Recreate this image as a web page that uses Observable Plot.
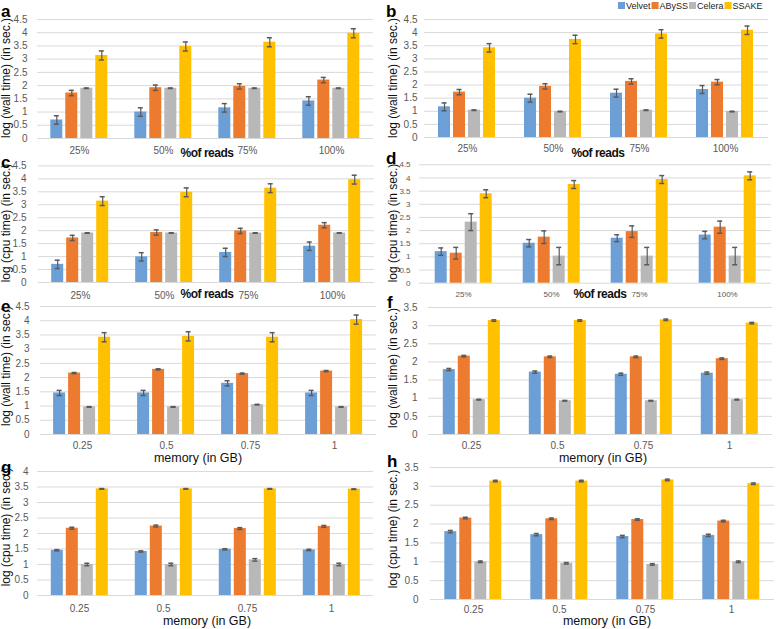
<!DOCTYPE html>
<html>
<head>
<meta charset="utf-8">
<script src="https://cdn.jsdelivr.net/npm/d3@7"></script>
<script src="https://cdn.jsdelivr.net/npm/@observablehq/plot@0.6"></script>
<style>
  body { margin: 0; background: #fff; }
  #root { position: relative; width: 778px; height: 629px; overflow: hidden; background: #fff; }
  .panel { position: absolute; }
  .panel svg { overflow: visible; display: block; }
  #overlay { position: absolute; left: 0; top: 0; pointer-events: none; }
</style>
</head>
<body>
<div id="root"></div>
<script>
// ---------- categories & series ----------
const series = ["Velvet", "ABySS", "Celera", "SSAKE"];
const seriesColors = ["#6b9fd6", "#ec7a2f", "#b8b8b8", "#ffc000"];
const readCats = ["25%", "50%", "75%", "100%"];
const memCats = ["0.25", "0.5", "0.75", "1"];

// ---------- panel a : log wall time, % of reads ----------
const aVelvet = [0.70, 1.00, 1.16, 1.42];
const aAbyss  = [1.72, 1.92, 1.97, 2.21];
const aCelera = [1.90, 1.90, 1.90, 1.90];
const aSsake  = [3.14, 3.48, 3.64, 3.98];
const aErrVelvet = [0.16, 0.16, 0.16, 0.16];
const aErrAbyss  = [0.10, 0.10, 0.10, 0.10];
const aErrCelera = [0.01, 0.01, 0.01, 0.01];
const aErrSsake  = [0.17, 0.17, 0.17, 0.17];

// ---------- panel b : log wall time, % of reads ----------
const bVelvet = [1.17, 1.50, 1.69, 1.83];
const bAbyss  = [1.73, 1.95, 2.14, 2.11];
const bCelera = [1.04, 0.99, 1.04, 0.99];
const bSsake  = [3.42, 3.74, 3.95, 4.09];
const bErrVelvet = [0.15, 0.15, 0.15, 0.15];
const bErrAbyss  = [0.10, 0.10, 0.10, 0.10];
const bErrCelera = [0.01, 0.01, 0.01, 0.01];
const bErrSsake  = [0.16, 0.16, 0.16, 0.16];

// ---------- panel c : log cpu time, % of reads ----------
const cVelvet = [0.70, 0.99, 1.16, 1.40];
const cAbyss  = [1.72, 1.93, 1.99, 2.21];
const cCelera = [1.91, 1.91, 1.91, 1.91];
const cSsake  = [3.14, 3.48, 3.64, 3.97];
const cErrVelvet = [0.16, 0.16, 0.16, 0.16];
const cErrAbyss  = [0.10, 0.10, 0.10, 0.10];
const cErrCelera = [0.01, 0.01, 0.01, 0.01];
const cErrSsake  = [0.17, 0.17, 0.17, 0.17];

// ---------- panel d : log cpu time, % of reads ----------
const dVelvet = [1.20, 1.52, 1.71, 1.83];
const dAbyss  = [1.14, 1.75, 1.96, 2.13];
const dCelera = [2.32, 1.03, 1.03, 1.03];
const dSsake  = [3.40, 3.75, 3.94, 4.08];
const dErrVelvet = [0.14, 0.14, 0.13, 0.14];
const dErrAbyss  = [0.22, 0.24, 0.22, 0.23];
const dErrCelera = [0.32, 0.33, 0.33, 0.33];
const dErrSsake  = [0.15, 0.15, 0.15, 0.15];

// ---------- panel e : log wall time, memory ----------
const eVelvet = [1.46, 1.46, 1.80, 1.46];
const eAbyss  = [2.16, 2.29, 2.14, 2.23];
const eCelera = [0.97, 0.97, 1.05, 0.97];
const eSsake  = [3.42, 3.45, 3.42, 4.04];
const eErrVelvet = [0.09, 0.09, 0.09, 0.09];
const eErrAbyss  = [0.02, 0.02, 0.02, 0.02];
const eErrCelera = [0.01, 0.01, 0.01, 0.01];
const eErrSsake  = [0.16, 0.16, 0.16, 0.16];

// ---------- panel f : log wall time, memory ----------
const fVelvet = [1.79, 1.72, 1.66, 1.69];
const fAbyss  = [2.16, 2.14, 2.14, 2.09];
const fCelera = [0.96, 0.93, 0.93, 0.96];
const fSsake  = [3.14, 3.14, 3.16, 3.07];
const fErrVelvet = [0.03, 0.03, 0.03, 0.03];
const fErrAbyss  = [0.02, 0.02, 0.02, 0.02];
const fErrCelera = [0.01, 0.01, 0.01, 0.01];
const fErrSsake  = [0.02, 0.02, 0.02, 0.02];

// ---------- panel g : log cpu time, memory ----------
const gVelvet = [1.46, 1.42, 1.49, 1.47];
const gAbyss  = [2.17, 2.24, 2.16, 2.23];
const gCelera = [1.00, 1.00, 1.15, 1.00];
const gSsake  = [3.44, 3.44, 3.44, 3.43];
const gErrVelvet = [0.02, 0.02, 0.02, 0.02];
const gErrAbyss  = [0.03, 0.03, 0.03, 0.03];
const gErrCelera = [0.04, 0.04, 0.04, 0.04];
const gErrSsake  = [0.01, 0.01, 0.01, 0.01];

// ---------- panel h : log cpu time, memory ----------
const hVelvet = [1.80, 1.72, 1.67, 1.70];
const hAbyss  = [2.16, 2.14, 2.12, 2.08];
const hCelera = [1.00, 0.96, 0.93, 1.00];
const hSsake  = [3.14, 3.14, 3.17, 3.07];
const hErrVelvet = [0.03, 0.03, 0.03, 0.03];
const hErrAbyss  = [0.02, 0.02, 0.02, 0.02];
const hErrCelera = [0.02, 0.02, 0.02, 0.02];
const hErrSsake  = [0.02, 0.02, 0.02, 0.02];

// ---------- axis texts ----------
const yLabelWall = "log (wall time) (in sec.)";
const yLabelCpu = "log (cpu time) (in sec.)";
const xLabelReads = "%of reads";
const xLabelMem = "memory (in GB)";

const panels = [
  {id: "a", cats: readCats, top: 4.5, vals: [aVelvet, aAbyss, aCelera, aSsake], errs: [aErrVelvet, aErrAbyss, aErrCelera, aErrSsake],
   ylab: yLabelWall, xlab: xLabelReads,
   L: 0, T: 0, W: 380, H: 160, mL: 35.7, mR: 5.7, mT: 19, mB: 22, pad: 8.5, fs: 10, ypad: 10,
   letter: [1, 17], ylabPos: [9.5, 78], xlabPos: [207, 156.5], xbold: true},
  {id: "b", cats: readCats, top: 4.5, vals: [bVelvet, bAbyss, bCelera, bSsake], errs: [bErrVelvet, bErrAbyss, bErrCelera, bErrSsake],
   ylab: yLabelWall, xlab: xLabelReads,
   L: 388, T: 0, W: 390, H: 160, mL: 35, mR: 9, mT: 19, mB: 23, pad: 7.5, fs: 10, ypad: 7,
   letter: [386, 17], ylabPos: [396.5, 78], xlabPos: [598, 156.5], xbold: true},
  {id: "c", cats: readCats, top: 4.5, vals: [cVelvet, cAbyss, cCelera, cSsake], errs: [cErrVelvet, cErrAbyss, cErrCelera, cErrSsake],
   ylab: yLabelCpu, xlab: xLabelReads,
   L: 0, T: 160, W: 380, H: 145, mL: 37.8, mR: 5, mT: 5.4, mB: 23, pad: 9, fs: 10, ypad: 12,
   letter: [1, 168], ylabPos: [9.5, 223], xlabPos: [207, 298], xbold: true},
  {id: "d", cats: readCats, top: 4.5, vals: [dVelvet, dAbyss, dCelera, dSsake], errs: [dErrVelvet, dErrAbyss, dErrCelera, dErrSsake],
   ylab: yLabelCpu, xlab: xLabelReads,
   L: 388, T: 160, W: 390, H: 145, mL: 30.3, mR: 5.7, mT: 4.3, mB: 22.3, pad: 8.3, fs: 8, ypad: 9,
   letter: [386, 164], ylabPos: [396.5, 223], xlabPos: [600, 298], xbold: true},
  {id: "e", cats: memCats, top: 4.5, vals: [eVelvet, eAbyss, eCelera, eSsake], errs: [eErrVelvet, eErrAbyss, eErrCelera, eErrSsake],
   ylab: yLabelWall, xlab: xLabelMem,
   L: 0, T: 300, W: 385, H: 155, mL: 39.9, mR: 8.4, mT: 6, mB: 21, pad: 7.5, fs: 10, ypad: 11,
   letter: [1, 312], ylabPos: [9.5, 366], xlabPos: [198, 462], xbold: false},
  {id: "f", cats: memCats, top: 3.5, vals: [fVelvet, fAbyss, fCelera, fSsake], errs: [fErrVelvet, fErrAbyss, fErrCelera, fErrSsake],
   ylab: yLabelWall, xlab: xLabelMem,
   L: 388, T: 300, W: 390, H: 155, mL: 39.2, mR: 4.8, mT: 7, mB: 21, pad: 7.5, fs: 10, ypad: 11,
   letter: [387, 308], ylabPos: [396.5, 368], xlabPos: [603, 462], xbold: false},
  {id: "g", cats: memCats, top: 4, vals: [gVelvet, gAbyss, gCelera, gSsake], errs: [gErrVelvet, gErrAbyss, gErrCelera, gErrSsake],
   ylab: yLabelCpu, xlab: xLabelMem,
   L: 0, T: 462, W: 380, H: 162, mL: 36.2, mR: 5.8, mT: 9, mB: 29, pad: 9.5, fs: 10, ypad: 9,
   letter: [1, 473], ylabPos: [9.5, 527], xlabPos: [207, 625], xbold: false},
  {id: "h", cats: memCats, top: 3.5, vals: [hVelvet, hAbyss, hCelera, hSsake], errs: [hErrVelvet, hErrAbyss, hErrCelera, hErrSsake],
   ylab: yLabelCpu, xlab: xLabelMem,
   L: 388, T: 462, W: 390, H: 162, mL: 40.7, mR: 3.3, mT: 5, mB: 25, pad: 6.5, fs: 10, ypad: 12,
   letter: [387, 467], ylabPos: [396.5, 529], xlabPos: [607, 625], xbold: false},
];

const root = document.getElementById("root");
const FONT = "'Liberation Sans', Arial, sans-serif";

function buildPanel(p) {
  const rows = [];
  p.cats.forEach((c, i) => series.forEach((s, j) => rows.push({cat: c, series: s, value: p.vals[j][i], err: p.errs[j][i]})));
  const ticks = d3.range(0, p.top + 1e-9, 0.5);
  const facetW = (p.W - p.mL - p.mR) / p.cats.length;
  const pi = 0.19;
  const po = Math.max(0, (facetW / 16 - (series.length - pi)) / 2);
  const chart = Plot.plot({
    width: p.W,
    height: p.H,
    marginLeft: p.mL,
    marginRight: p.mR,
    marginTop: p.mT,
    marginBottom: p.mB,
    style: {background: "transparent", fontFamily: FONT, fontSize: p.fs + "px", color: "#595959", overflow: "visible"},
    fx: {domain: p.cats, paddingInner: 0, paddingOuter: 0, axis: "bottom", label: null, tickSize: 0, tickPadding: p.pad},
    x: {domain: series, paddingInner: pi, paddingOuter: po, axis: null},
    y: {domain: [0, p.top], ticks: ticks, tickSize: 0, tickPadding: p.ypad, label: null, tickFormat: d => String(d)},
    color: {domain: series, range: seriesColors},
    marks: [
      Plot.ruleY(ticks, {stroke: "#d9d9d9", strokeWidth: 1}),
      Plot.barY(rows, {fx: "cat", x: "series", y: "value", fill: "series"}),
      Plot.ruleX(rows, {fx: "cat", x: "series", y1: d => d.value - d.err, y2: d => d.value + d.err, stroke: "#5a5a5a", strokeWidth: 1.2}),
      Plot.tickY(rows, {fx: "cat", x: "series", y: d => d.value - d.err, stroke: "#5a5a5a", strokeWidth: 1.5, insetLeft: 3.5, insetRight: 3.5}),
      Plot.tickY(rows, {fx: "cat", x: "series", y: d => d.value + d.err, stroke: "#5a5a5a", strokeWidth: 1.5, insetLeft: 3.5, insetRight: 3.5})
    ]
  });
  const div = document.createElement("div");
  div.className = "panel";
  div.style.left = p.L + "px";
  div.style.top = p.T + "px";
  div.appendChild(chart);
  root.appendChild(div);
}
panels.forEach(buildPanel);

// ---------- overlay texts: panel letters, axis titles, legend ----------
const svg = d3.select(root).append("svg")
  .attr("id", "overlay").attr("width", 778).attr("height", 629)
  .style("font-family", FONT);

panels.forEach(p => {
  svg.append("text").attr("x", p.letter[0]).attr("y", p.letter[1])
    .attr("font-size", 17).attr("font-weight", "bold").attr("fill", "#000").text(p.id);
  svg.append("text")
    .attr("transform", `translate(${p.ylabPos[0]},${p.ylabPos[1]}) rotate(-90)`)
    .attr("text-anchor", "middle").attr("font-size", 12).attr("fill", "#111").text(p.ylab);
  svg.append("text").attr("x", p.xlabPos[0]).attr("y", p.xlabPos[1])
    .attr("text-anchor", "middle")
    .attr("font-size", p.xbold ? 12 : 12.5)
    .attr("font-weight", p.xbold ? "bold" : "normal")
    .attr("letter-spacing", p.xbold ? -0.5 : 0)
    .attr("fill", "#111").text(p.xlab);
});

// legend (top right)
let lx = 618;
series.forEach((s, i) => {
  svg.append("rect").attr("x", lx).attr("y", 2).attr("width", 7).attr("height", 7).attr("fill", seriesColors[i]);
  const t = svg.append("text").attr("x", lx + 8).attr("y", 9)
    .attr("font-size", 9).attr("fill", "#222")
    .style("font-family", "'Liberation Sans Narrow', " + FONT).text(s);
  lx += 8 + t.node().getComputedTextLength() + 1;
});
</script>
</body>
</html>
